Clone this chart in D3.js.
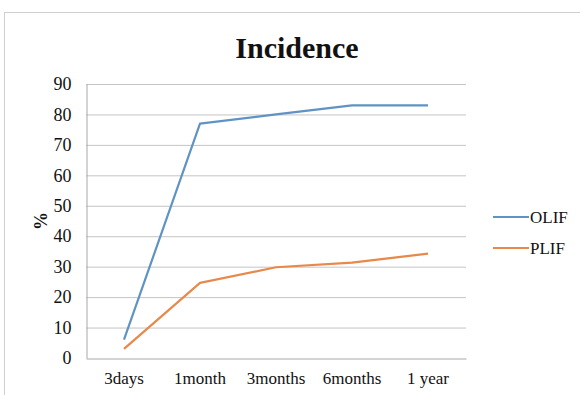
<!DOCTYPE html>
<html><head><meta charset="utf-8">
<script src="https://cdn.jsdelivr.net/npm/d3@7"></script>
<style>body{margin:0;background:#fff}svg{display:block}
svg text{font-family:"Liberation Serif","DejaVu Serif",serif !important;}</style>
</head><body>
<svg id="c" width="580" height="395"></svg>
<script>
const categories = ["3days","1month","3months","6months","1 year"];
const seriesNames = ["OLIF","PLIF"];
const olif = [6, 77, 80, 83, 83];
const plif = [3, 24.7, 29.8, 31.3, 34.3];
const yTicks = [0,10,20,30,40,50,60,70,80,90];
const colors = ["#5f93c4","#e8894c"];

const svg = d3.select("#c");
svg.append("rect").attr("x",4.5).attr("y",12.5).attr("width",590).attr("height",400)
  .attr("fill","#fff").attr("stroke","#d0d0d0");

const m = {l:86, r:466, t:84, b:358};
const x = d3.scaleBand().domain(categories).range([m.l, m.r]);
const y = d3.scaleLinear().domain([0,90]).range([m.b, m.t]);

svg.append("g").selectAll("line").data(yTicks.filter(d=>d>0)).join("line")
  .attr("x1",m.l).attr("x2",m.r).attr("y1",d=>y(d)+0.5).attr("y2",d=>y(d)+0.5)
  .attr("stroke","#c4c4c4").attr("stroke-width",1);

const yAxis = svg.append("g").attr("transform",`translate(${m.l+0.5},0)`)
  .call(d3.axisLeft(y).tickValues(yTicks).tickSize(0).tickPadding(15));
yAxis.select(".domain").attr("stroke","#a8a8a8");
yAxis.selectAll("text").attr("font-size",18).attr("fill","#111");

const xAxis = svg.append("g").attr("transform",`translate(0,${m.b+0.5})`)
  .call(d3.axisBottom(x).tickSize(0).tickPadding(13));
xAxis.select(".domain").attr("stroke","#a8a8a8");
xAxis.selectAll("text").attr("font-size",17).attr("fill","#111");

const line = d3.line().x((d,i)=>x(categories[i])+x.bandwidth()/2).y(d=>y(d));
[olif, plif].forEach((s,i)=>{
  svg.append("path").attr("d",line(s)).attr("fill","none")
    .attr("stroke",colors[i]).attr("stroke-width",2.2).attr("stroke-linejoin","round");
});

svg.append("text").attr("x",297).attr("y",58).attr("text-anchor","middle")
  .attr("font-weight","bold").attr("font-size",30).attr("fill","#111")
  .text("Incidence");

svg.append("text").attr("transform","translate(47,221) rotate(-90)").attr("text-anchor","middle")
  .attr("font-weight","bold").attr("font-size",18).attr("fill","#111")
  .text("%");

const leg = svg.append("g");
seriesNames.forEach((n,i)=>{
  const ly = 217 + i*31;
  leg.append("line").attr("x1",493).attr("x2",529).attr("y1",ly).attr("y2",ly)
    .attr("stroke",colors[i]).attr("stroke-width",2.2);
  leg.append("text").attr("x",530).attr("y",ly+6).attr("font-size",17)
    .attr("fill","#111").text(n);
});
</script>
</body></html>
